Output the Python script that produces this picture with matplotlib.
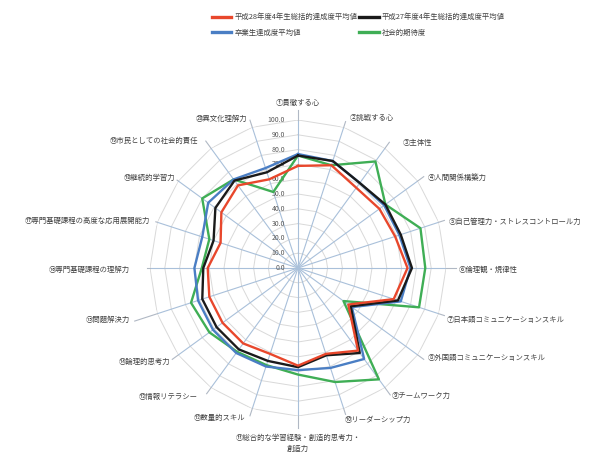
import numpy as np
import matplotlib
matplotlib.use("Agg")
import matplotlib.pyplot as plt
from matplotlib.lines import Line2D
from matplotlib.transforms import offset_copy

plt.rcParams['font.family'] = ['Noto Sans CJK JP', 'DejaVu Sans']

# ---------------- data ----------------
categories = [
    "①貫徹する心", "②挑戦する心", "③主体性", "④人間関係構築力",
    "⑤自己管理力・ストレスコントロール力", "⑥倫理観・規律性",
    "⑦日本語コミュニケーションスキル", "⑧外国語コミュニケーションスキル",
    "⑨チームワーク力", "⑩リーダーシップ力",
    "⑪総合的な学習経験・創造的思考力・\n創造力",
    "⑫数量的スキル", "⑬情報リテラシー", "⑭論理的思考力", "⑮問題解決力",
    "⑯専門基礎課程の理解力", "⑰専門基礎課程の高度な応用展開能力",
    "⑱継続的学習力", "⑲市民としての社会的責任", "⑳異文化理解力",
]
series_names = ["平成28年度4年生総括的達成度平均値", "平成27年度4年生総括的達成度平均値",
                "卒業生達成度平均値", "社会的期待度"]
red_h28 = [69, 73, 67, 68, 69, 74, 68, 42, 69, 61, 66, 61, 63, 63, 63, 61, 55, 64, 69, 63]
black_h27 = [76, 76, 71, 73, 73, 77, 71, 44, 71, 62, 67, 66, 68, 68, 68, 64, 60, 69, 73, 68]
blue_grad = [77, 76, 71, 72, 72, 76, 73, 45, 76, 71, 69, 70, 71, 71, 71, 70, 68, 75, 74, 71]
green_soc = [76, 73, 89, 73, 87, 86, 86, 38, 93, 81, 72, 69, 70, 74, 76, 65, 63, 80, 74, 54]
tick_values = [0, 10, 20, 30, 40, 50, 60, 70, 80, 90, 100]

# ---------------- layout / style ----------------
W, H = 597, 455
fig = plt.figure(figsize=(W / 100, H / 100), dpi=100)
cx, cy, R = 298, 268, 148
ax = fig.add_axes([(cx - R) / W, (H - cy - R) / H, 2 * R / W, 2 * R / H], projection='polar')
ax.set_theta_offset(np.pi / 2)
ax.set_theta_direction(-1)
ax.set_ylim(0, 100)
ax.set_axis_off()

n = len(categories)
theta = np.arange(n) * 2 * np.pi / n
theta_c = np.append(theta, theta[0])

# polygon grid
for lv in tick_values[1:]:
    ax.plot(theta_c, [lv] * (n + 1), color='#d9d9d9', lw=0.7, zorder=1)

# axis spokes + leader lines
r_end = [107, 104, 105, 105, 104, 107, 104, 105, 106, 104, 108,
         105, 105, 105, 116, 102, 101, 101, 106, 105]
for t, re in zip(theta, r_end):
    ax.plot([t, t], [0, 100], color='#a9c0da', lw=0.8, zorder=2)
    ax.plot([t, t], [100, re], color='#b0b8c4', lw=0.8, zorder=2, clip_on=False)

# tick labels
tr = offset_copy(ax.transData, fig=fig, x=-13, y=0, units='dots')
for v in tick_values:
    ax.text(0, v, f"{v:.1f}", transform=tr, ha='right', va='center',
            fontsize=5.0, color='#595959', zorder=3)

colors = ['#e8472c', '#1a1a1a', '#4a7ec4', '#3fae55']
series = [red_h28, black_h27, blue_grad, green_soc]
handles = []
order_z = [6, 5, 4, 3]
for vals, c, z, name in zip(series, colors, order_z, series_names):
    ax.plot(theta_c, list(vals) + [vals[0]], color=c, lw=1.7, zorder=z)
    handles.append(Line2D([], [], color=c, lw=2.4, label=name))

# category labels (overlay in pixel coords)
ov = fig.add_axes([0, 0, 1, 1])
ov.set_xlim(0, W)
ov.set_ylim(H, 0)
ov.set_axis_off()
label_pos = [
    (298, 103, 'center'), (350, 118, 'left'), (403, 143, 'left'), (428, 178, 'left'),
    (449, 222, 'left'), (459, 270, 'left'), (447, 320, 'left'), (428, 358, 'left'),
    (392, 396, 'left'), (345, 420, 'left'), (298, 443, 'center'),
    (245, 418, 'right'), (198, 397, 'right'), (170, 362, 'right'), (130, 320, 'right'),
    (130, 270, 'right'), (150, 221, 'right'), (175, 178, 'right'), (198, 141, 'right'),
    (247, 119, 'right'),
]
for lab, (x, y, ha) in zip(categories, label_pos):
    ov.text(x, y, lab, ha=ha, va='center', fontsize=5.3, color='#404040',
            linespacing=1.5, multialignment='center')

# legend
leg_handles = [handles[0], handles[2], handles[1], handles[3]]
fig.legend(handles=leg_handles, labels=[h.get_label() for h in leg_handles],
           ncol=2, loc='upper left', bbox_to_anchor=(207 / W, 1 - 8 / H),
           frameon=False, fontsize=5.3, handlelength=2.6, handletextpad=0.4,
           columnspacing=0.3, labelspacing=1.0, borderpad=0.2,
           labelcolor='#404040')

fig.savefig("out.png", dpi=100, facecolor='white')
